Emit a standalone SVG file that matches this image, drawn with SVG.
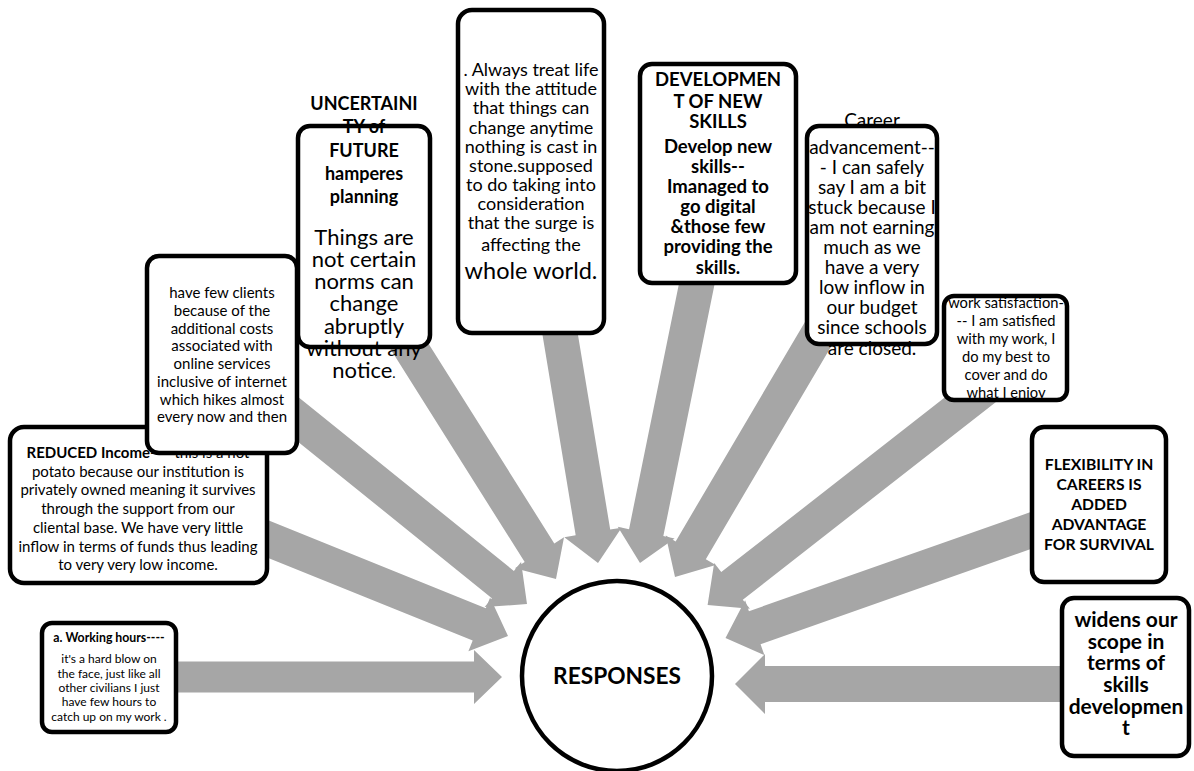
<svg xmlns="http://www.w3.org/2000/svg" width="1194" height="771" viewBox="0 0 1194 771">
<style>
.box{fill:#fff;stroke:#000;stroke-width:4.5}
.arr{fill:#a6a6a6}
text{font-family:Lato,"Noto Sans",sans-serif;fill:#000;text-anchor:middle}
.b{font-weight:bold}
</style>
<rect width="1194" height="771" fill="#fff"/>
<g id="connectors">
<polygon class="arr" transform="translate(502,677)" points="-340,-15.5 -28,-15.5 -28,-27 0,0 -28,27 -28,15.5 -340,15.5"/>
<polygon class="arr" transform="translate(508,636) rotate(22)" points="-300,-17.5 -31,-17.5 -31,-29 0,0 -31,29 -31,17.5 -300,17.5"/>
<polygon class="arr" transform="translate(527,604) rotate(38.9)" points="-330,-17.5 -31,-17.5 -31,-29 0,0 -31,29 -31,17.5 -330,17.5"/>
<polygon class="arr" transform="translate(556,579) rotate(57.8)" points="-290,-17.5 -31,-17.5 -31,-29 0,0 -31,29 -31,17.5 -290,17.5"/>
<polygon class="arr" transform="translate(598,563) rotate(80.6)" points="-250,-17.5 -31,-17.5 -31,-29 0,0 -31,29 -31,17.5 -250,17.5"/>
<polygon class="arr" transform="translate(640,563) rotate(101.5)" points="-300,-17.5 -31,-17.5 -31,-29 0,0 -31,29 -31,17.5 -300,17.5"/>
<polygon class="arr" transform="translate(675,577) rotate(120.5)" points="-300,-17.5 -31,-17.5 -31,-29 0,0 -31,29 -31,17.5 -300,17.5"/>
<polygon class="arr" transform="translate(707.6,605) rotate(142)" points="-360,-17.5 -31,-17.5 -31,-29 0,0 -31,29 -31,17.5 -360,17.5"/>
<polygon class="arr" transform="translate(725.5,638) rotate(160.6)" points="-355,-17.5 -31,-17.5 -31,-29 0,0 -31,29 -31,17.5 -355,17.5"/>
<polygon class="arr" transform="translate(735,684) rotate(180)" points="-365,-18 -30,-18 -30,-30 0,0 -30,30 -30,18 -365,18"/>
</g>
<g id="reduced">
<rect class="box" x="10" y="427" width="257" height="156" rx="14"/>
<g font-size="15">
<text x="138" y="458"><tspan class="b">REDUCED Income</tspan>—– this is a hot</text>
<text x="138" y="476.7">potato because our institution is</text>
<text x="138" y="495.4">privately owned meaning it survives</text>
<text x="138" y="514">through the support from our</text>
<text x="138" y="532.8">cliental base. We have very little</text>
<text x="138" y="551.5">inflow in terms of funds thus leading</text>
<text x="138" y="570.2">to very very low income.</text>
</g>
</g>
<g id="clients">
<rect class="box" x="147" y="256" width="150" height="197" rx="12"/>
<g font-size="15">
<text x="222" y="298">have few clients</text>
<text x="222" y="315.8">because of the</text>
<text x="222" y="333.5">additional costs</text>
<text x="222" y="351.3">associated with</text>
<text x="222" y="369">online services</text>
<text x="222" y="386.8">inclusive of internet</text>
<text x="222" y="404.5">which hikes almost</text>
<text x="222" y="422.3">every now and then</text>
</g>
</g>
<g id="working">
<rect class="box" x="42" y="623" width="134" height="109" rx="10"/>
<text class="b" x="109" y="642" font-size="12.3">a. Working hours----</text>
<g font-size="12">
<text x="109" y="663">it's a hard blow on</text>
<text x="109" y="677.5">the face, just like all</text>
<text x="109" y="691.5">other civilians I just</text>
<text x="109" y="706">have few hours to</text>
<text x="109" y="721">catch up on my work .</text>
</g>
</g>
<g id="uncertainity">
<rect class="box" x="298" y="126" width="132" height="221" rx="12"/>
<g class="b" font-size="18">
<text x="364" y="110">UNCERTAINI</text>
<text x="364" y="133">TY of</text>
<text x="364" y="157">FUTURE</text>
<text x="364" y="180">hamperes</text>
<text x="364" y="203">planning</text>
</g>
<g font-size="22">
<text x="364" y="245">Things are</text>
<text x="364" y="267">not certain</text>
<text x="364" y="289">norms can</text>
<text x="364" y="311">change</text>
<text x="364" y="334">abruptly</text>
<text x="364" y="356">without any</text>
<text x="364" y="378">notice<tspan font-size="14">.</tspan></text>
</g>
</g>
<g id="always">
<rect class="box" x="458" y="10" width="146" height="323" rx="14"/>
<g font-size="18">
<text x="531" y="76">. Always treat life</text>
<text x="531" y="95">with the attitude</text>
<text x="531" y="114">that things can</text>
<text x="531" y="134">change anytime</text>
<text x="531" y="153">nothing is cast in</text>
<text x="531" y="172">stone.supposed</text>
<text x="531" y="191">to do taking into</text>
<text x="531" y="210">consideration</text>
<text x="531" y="229">that the surge is</text>
<text x="531" y="251">affecting the</text>
<text x="531" y="279" font-size="23.5">whole world.</text>
</g>
</g>
<g id="development">
<rect class="box" x="640" y="64" width="156" height="219" rx="12"/>
<g class="b" font-size="18.5">
<text x="718" y="86">DEVELOPMEN</text>
<text x="718" y="108">T OF NEW</text>
<text x="718" y="128">SKILLS</text>
<text x="718" y="153">Develop new</text>
<text x="718" y="173">skills--</text>
<text x="718" y="193">Imanaged to</text>
<text x="718" y="213">go digital</text>
<text x="718" y="233">&amp;those few</text>
<text x="718" y="253">providing the</text>
<text x="718" y="274">skills.</text>
</g>
</g>
<g id="career">
<rect class="box" x="807" y="126" width="130" height="218" rx="12"/>
<g font-size="19">
<text x="872" y="127">Career</text>
<text x="872" y="154">advancement--</text>
<text x="872" y="174">- I can safely</text>
<text x="872" y="194">say I am a bit</text>
<text x="872" y="214">stuck because I</text>
<text x="872" y="234">am not earning</text>
<text x="872" y="254">much as we</text>
<text x="872" y="274">have a very</text>
<text x="872" y="294">low inflow in</text>
<text x="872" y="314">our budget</text>
<text x="872" y="334">since schools</text>
<text x="872" y="355">are closed.</text>
</g>
</g>
<g id="satisfaction">
<rect class="box" x="944" y="296" width="123" height="104" rx="10"/>
<g font-size="14.7">
<text x="1006" y="308">work satisfaction-</text>
<text x="1006" y="326">-- I am satisfied</text>
<text x="1006" y="344">with my work, I</text>
<text x="1006" y="362">do my best to</text>
<text x="1006" y="380">cover and do</text>
<text x="1006" y="398">what I enjoy</text>
</g>
</g>
<g id="flexibility">
<rect class="box" x="1032" y="427" width="134" height="155" rx="12"/>
<g class="b" font-size="15.7">
<text x="1099" y="470">FLEXIBILITY IN</text>
<text x="1099" y="490">CAREERS IS</text>
<text x="1099" y="510">ADDED</text>
<text x="1099" y="530">ADVANTAGE</text>
<text x="1099" y="550">FOR SURVIVAL</text>
</g>
</g>
<g id="widens">
<rect class="box" x="1062" y="598" width="127" height="158" rx="12"/>
<g class="b" font-size="21">
<text x="1126" y="627">widens our</text>
<text x="1126" y="649">scope in</text>
<text x="1126" y="670">terms of</text>
<text x="1126" y="692">skills</text>
<text x="1126" y="714">developmen</text>
<text x="1126" y="735">t</text>
</g>
</g>
<g id="responses">
<circle class="box" cx="617" cy="676" r="95"/>
<text class="b" x="617" y="684" font-size="22.7">RESPONSES</text>
</g>
</svg>
